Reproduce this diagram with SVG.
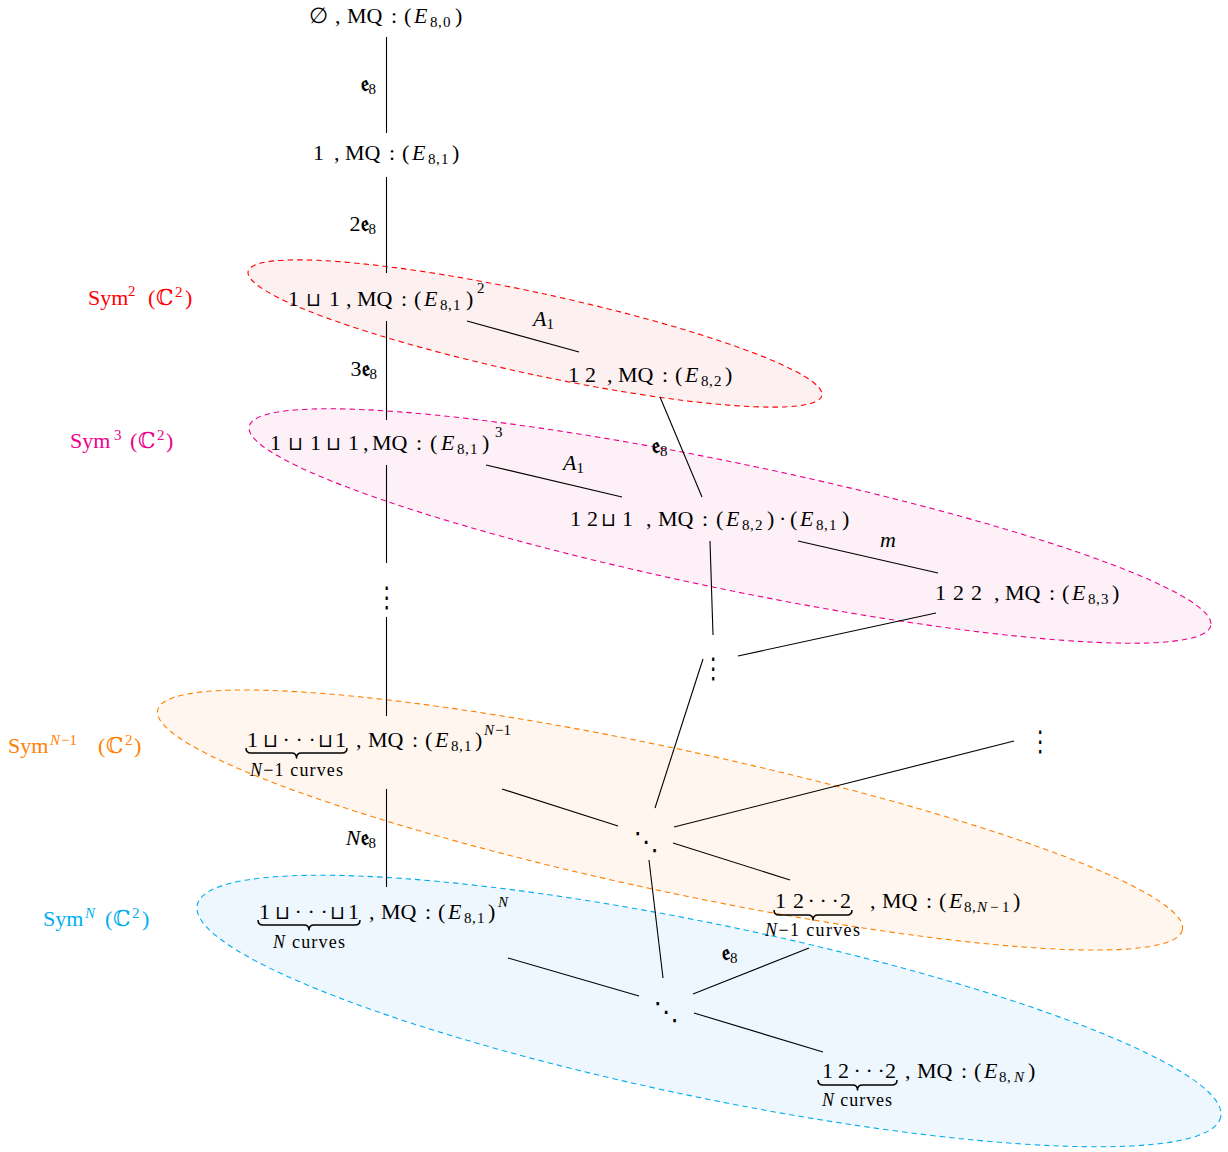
<svg xmlns="http://www.w3.org/2000/svg" width="1228" height="1152" viewBox="0 0 1228 1152">
  <style>
    .m { font-family: "Liberation Serif", "DejaVu Serif", serif; font-size: 22px; fill: #000; }
    .i { font-style: italic; }
    .s { font-size: 15px; }
    .op { font-family: "DejaVu Sans", sans-serif; font-size: 19px; }
    .fk { font-family: "DejaVu Serif", "DejaVu Sans", serif; font-weight: bold; }
    .vd { font-family: "DejaVu Sans", sans-serif; font-size: 21px; text-anchor: middle; }
    .dd { font-family: "DejaVu Sans", sans-serif; font-size: 25px; text-anchor: middle; }
    .edge { stroke: #000; stroke-width: 1.1; fill: none; }
    .brace { stroke: #000; stroke-width: 1.5; fill: none; stroke-linejoin: round; }
    .region { stroke-width: 1.1; stroke-dasharray: 5.5 4; }
    .lab { font-size: 18px; }
  </style>

  <!-- symmetric-product regions -->
  <g id="regions">
    <ellipse id="sym2" class="region" cx="535" cy="333.5" rx="293.5" ry="40.6" transform="rotate(12.2 535 333.5)" fill="#fdf0f0" stroke="#ff0000"/>
    <ellipse id="sym3" class="region" cx="730" cy="526" rx="491" ry="63.2" transform="rotate(11.7 730 526)" fill="#fdf0f6" stroke="#ec008c"/>
    <ellipse id="symN1" class="region" cx="670" cy="820" rx="524" ry="71.2" transform="rotate(12.1 670 820)" fill="#fff7ef" stroke="#ff8000"/>
    <ellipse id="symN" class="region" cx="709" cy="1011" rx="522.6" ry="86.7" transform="rotate(11.7 709 1011)" fill="#eef7fd" stroke="#00aeef"/>
  </g>

  <!-- region labels -->
  <g id="region-labels" class="m">
    <text fill="#ff0000"><tspan x="88" y="305">Sym</tspan><tspan class="s" x="128" y="296">2</tspan><tspan x="148" y="305">(</tspan><tspan x="156" y="305">ℂ</tspan><tspan class="s" x="175" y="297">2</tspan><tspan x="185" y="305">)</tspan></text>
    <text fill="#ec008c"><tspan x="70" y="448">Sym</tspan><tspan class="s" x="114" y="440">3</tspan><tspan x="130" y="448">(</tspan><tspan x="138" y="448">ℂ</tspan><tspan class="s" x="157" y="440">2</tspan><tspan x="166" y="448">)</tspan></text>
    <text fill="#ff8000"><tspan x="8" y="753">Sym</tspan><tspan class="s i" x="50" y="745">N</tspan><tspan class="s" x="61" y="745">−1</tspan><tspan x="98" y="753">(</tspan><tspan x="106" y="753">ℂ</tspan><tspan class="s" x="125" y="745">2</tspan><tspan x="134" y="753">)</tspan></text>
    <text fill="#00aeef"><tspan x="43" y="926">Sym</tspan><tspan class="s i" x="85" y="918">N</tspan><tspan x="105" y="926">(</tspan><tspan x="113" y="926">ℂ</tspan><tspan class="s" x="132" y="918">2</tspan><tspan x="142" y="926">)</tspan></text>
  </g>

  <!-- connectors -->
  <g id="connectors">
    <line class="edge" x1="386.5" y1="37" x2="386.5" y2="133"/>
    <line class="edge" x1="386.5" y1="177" x2="386.5" y2="273"/>
    <line class="edge" x1="386.5" y1="321" x2="386.5" y2="420"/>
    <line class="edge" x1="386.5" y1="465" x2="386.5" y2="563"/>
    <line class="edge" x1="386.5" y1="617" x2="386.5" y2="716"/>
    <line class="edge" x1="386.5" y1="789" x2="386.5" y2="887"/>
    <line class="edge" x1="467" y1="321" x2="579" y2="352"/>
    <line class="edge" x1="486" y1="465" x2="622" y2="497"/>
    <line class="edge" x1="660" y1="397" x2="702" y2="497"/>
    <line class="edge" x1="798" y1="541" x2="938" y2="573"/>
    <line class="edge" x1="710" y1="541" x2="713" y2="635"/>
    <line class="edge" x1="738" y1="656" x2="936" y2="613"/>
    <line class="edge" x1="703" y1="659" x2="655" y2="808"/>
    <line class="edge" x1="502" y1="789" x2="618" y2="826"/>
    <line class="edge" x1="674" y1="827" x2="1014" y2="741"/>
    <line class="edge" x1="673" y1="843" x2="790" y2="880"/>
    <line class="edge" x1="649" y1="860" x2="663" y2="978"/>
    <line class="edge" x1="508" y1="958" x2="639" y2="996"/>
    <line class="edge" x1="693" y1="994" x2="809" y2="948"/>
    <line class="edge" x1="694" y1="1013" x2="823" y2="1052"/>
  </g>

  <!-- connector labels -->
  <g id="connector-labels" class="m">
    <text x="376" y="91" text-anchor="end"><tspan class="fk">𝔢</tspan><tspan class="s" dy="3">8</tspan></text>
    <text x="376" y="231" text-anchor="end">2<tspan class="fk">𝔢</tspan><tspan class="s" dy="3">8</tspan></text>
    <text x="377" y="376" text-anchor="end">3<tspan class="fk">𝔢</tspan><tspan class="s" dy="3">8</tspan></text>
    <text x="376" y="845" text-anchor="end"><tspan class="i">N</tspan><tspan class="fk">𝔢</tspan><tspan class="s" dy="3">8</tspan></text>
    <text x="533" y="326"><tspan class="i">A</tspan><tspan class="s" dy="3">1</tspan></text>
    <text x="563" y="470"><tspan class="i">A</tspan><tspan class="s" dy="3">1</tspan></text>
    <text x="652" y="453"><tspan class="fk">𝔢</tspan><tspan class="s" dy="3">8</tspan></text>
    <text x="880" y="547" class="m i">m</text>
    <text x="722" y="960"><tspan class="fk">𝔢</tspan><tspan class="s" dy="3">8</tspan></text>
  </g>

  <!-- nodes -->
  <g id="n-empty" class="m">
    <text><tspan x="309" y="23">∅</tspan><tspan x="335" y="23">,</tspan><tspan x="347" y="23">MQ</tspan><tspan x="391" y="23">:</tspan><tspan x="404" y="23">(</tspan><tspan class="i" x="414" y="23">E</tspan><tspan class="s" x="430" y="27">8</tspan><tspan class="s" x="438" y="27">,</tspan><tspan class="s" x="443" y="27">0</tspan><tspan x="455" y="23">)</tspan></text>
  </g>

  <g id="n-1" class="m">
    <text><tspan x="313" y="160">1</tspan><tspan x="334" y="160">,</tspan><tspan x="345" y="160">MQ</tspan><tspan x="389" y="160">:</tspan><tspan x="402" y="160">(</tspan><tspan class="i" x="412" y="160">E</tspan><tspan class="s" x="428" y="164">8</tspan><tspan class="s" x="436" y="164">,</tspan><tspan class="s" x="441" y="164">1</tspan><tspan x="452" y="160">)</tspan></text>
  </g>

  <g id="n-1u1" class="m">
    <text><tspan x="288" y="306">1</tspan><tspan class="op" x="306" y="306">⊔</tspan><tspan x="329" y="306">1</tspan><tspan x="346" y="306">,</tspan><tspan x="357" y="306">MQ</tspan><tspan x="401" y="306">:</tspan><tspan x="414" y="306">(</tspan><tspan class="i" x="424" y="306">E</tspan><tspan class="s" x="440" y="310">8</tspan><tspan class="s" x="448" y="310">,</tspan><tspan class="s" x="453" y="310">1</tspan><tspan x="466" y="306">)</tspan><tspan class="s" x="477" y="293">2</tspan></text>
  </g>

  <g id="n-12" class="m">
    <text><tspan x="568" y="382">1</tspan><tspan x="585" y="382">2</tspan><tspan x="607" y="382">,</tspan><tspan x="618" y="382">MQ</tspan><tspan x="662" y="382">:</tspan><tspan x="675" y="382">(</tspan><tspan class="i" x="685" y="382">E</tspan><tspan class="s" x="701" y="386">8</tspan><tspan class="s" x="709" y="386">,</tspan><tspan class="s" x="714" y="386">2</tspan><tspan x="725" y="382">)</tspan></text>
  </g>

  <g id="n-1u1u1" class="m">
    <text><tspan x="270" y="450">1</tspan><tspan class="op" x="288" y="450">⊔</tspan><tspan x="310" y="450">1</tspan><tspan class="op" x="326" y="450">⊔</tspan><tspan x="348" y="450">1</tspan><tspan x="363" y="450">,</tspan><tspan x="372" y="450">MQ</tspan><tspan x="416" y="450">:</tspan><tspan x="430" y="450">(</tspan><tspan class="i" x="441" y="450">E</tspan><tspan class="s" x="457" y="454">8</tspan><tspan class="s" x="465" y="454">,</tspan><tspan class="s" x="470" y="454">1</tspan><tspan x="482" y="450">)</tspan><tspan class="s" x="495" y="437">3</tspan></text>
  </g>

  <g id="n-12u1" class="m">
    <text><tspan x="570" y="526">1</tspan><tspan x="587" y="526">2</tspan><tspan class="op" x="601" y="526">⊔</tspan><tspan x="622" y="526">1</tspan><tspan x="646" y="526">,</tspan><tspan x="658" y="526">MQ</tspan><tspan x="702" y="526">:</tspan><tspan x="716" y="526">(</tspan><tspan class="i" x="726" y="526">E</tspan><tspan class="s" x="742" y="530">8</tspan><tspan class="s" x="750" y="530">,</tspan><tspan class="s" x="755" y="530">2</tspan><tspan x="767" y="526">)</tspan><tspan x="779" y="526">·</tspan><tspan x="790" y="526">(</tspan><tspan class="i" x="800" y="526">E</tspan><tspan class="s" x="816" y="530">8</tspan><tspan class="s" x="824" y="530">,</tspan><tspan class="s" x="829" y="530">1</tspan><tspan x="842" y="526">)</tspan></text>
  </g>

  <g id="n-122" class="m">
    <text><tspan x="935" y="600">1</tspan><tspan x="953" y="600">2</tspan><tspan x="971" y="600">2</tspan><tspan x="994" y="600">,</tspan><tspan x="1005" y="600">MQ</tspan><tspan x="1049" y="600">:</tspan><tspan x="1062" y="600">(</tspan><tspan class="i" x="1072" y="600">E</tspan><tspan class="s" x="1088" y="604">8</tspan><tspan class="s" x="1096" y="604">,</tspan><tspan class="s" x="1101" y="604">3</tspan><tspan x="1112" y="600">)</tspan></text>
  </g>

  <!-- ellipsis nodes: vertical ones stretched so the dots sit further apart -->
  <g id="n-vdots-left"><text class="vd" transform="translate(386.5 607) scale(1 1.35)">⋮</text></g>
  <g id="n-vdots-mid"><text class="vd" transform="translate(713 678) scale(1 1.35)">⋮</text></g>
  <g id="n-vdots-right"><text class="vd" transform="translate(1040 751) scale(1 1.35)">⋮</text></g>
  <g id="n-ddots-upper"><text class="dd" x="646" y="850">⋱</text></g>
  <g id="n-ddots-lower"><text class="dd" x="666" y="1020">⋱</text></g>

  <g id="n-sum-N1" class="m">
    <text><tspan x="247" y="747">1</tspan><tspan class="op" x="263" y="747">⊔</tspan><tspan x="282.5" y="747">·</tspan><tspan x="295.5" y="747">·</tspan><tspan x="308.5" y="747">·</tspan><tspan class="op" x="318" y="747">⊔</tspan><tspan x="335" y="747">1</tspan><tspan x="356" y="747">,</tspan><tspan x="368" y="747">MQ</tspan><tspan x="412" y="747">:</tspan><tspan x="425" y="747">(</tspan><tspan class="i" x="435" y="747">E</tspan><tspan class="s" x="451" y="751">8</tspan><tspan class="s" x="459" y="751">,</tspan><tspan class="s" x="464" y="751">1</tspan><tspan x="475" y="747">)</tspan><tspan class="s i" x="484" y="735">N</tspan><tspan class="s" x="495" y="735">−1</tspan></text>
    <path class="brace" d="M246,748 q0,5 5,5 L291.5,753 q5,0 5,5 q0,-5 5,-5 L342,753 q5,0 5,-5"/>
    <text class="lab" x="250" y="776" textLength="93" lengthAdjust="spacing"><tspan class="i">N</tspan>−1 curves</text>
  </g>

  <g id="n-chain-N1" class="m">
    <text><tspan x="775" y="908">1</tspan><tspan x="793" y="908">2</tspan><tspan x="807.5" y="908">·</tspan><tspan x="819.5" y="908">·</tspan><tspan x="831.5" y="908">·</tspan><tspan x="840" y="908">2</tspan><tspan x="870" y="908">,</tspan><tspan x="882" y="908">MQ</tspan><tspan x="926" y="908">:</tspan><tspan x="939" y="908">(</tspan><tspan class="i" x="949" y="908">E</tspan><tspan class="s" x="964" y="912">8</tspan><tspan class="s" x="972" y="912">,</tspan><tspan class="s i" x="977" y="912">N</tspan><tspan class="s" x="990" y="912">−</tspan><tspan class="s" x="1002" y="912">1</tspan><tspan x="1013" y="908">)</tspan></text>
    <path class="brace" d="M774,910 q0,5 5,5 L808,915 q5,0 5,5 q0,-5 5,-5 L847,915 q5,0 5,-5"/>
    <text class="lab" x="765" y="936" textLength="95" lengthAdjust="spacing"><tspan class="i">N</tspan>−1 curves</text>
  </g>

  <g id="n-sum-N" class="m">
    <text><tspan x="259" y="919">1</tspan><tspan class="op" x="275" y="919">⊔</tspan><tspan x="294.5" y="919">·</tspan><tspan x="307.5" y="919">·</tspan><tspan x="320.5" y="919">·</tspan><tspan class="op" x="330" y="919">⊔</tspan><tspan x="348" y="919">1</tspan><tspan x="369" y="919">,</tspan><tspan x="381" y="919">MQ</tspan><tspan x="425" y="919">:</tspan><tspan x="438" y="919">(</tspan><tspan class="i" x="448" y="919">E</tspan><tspan class="s" x="464" y="923">8</tspan><tspan class="s" x="472" y="923">,</tspan><tspan class="s" x="477" y="923">1</tspan><tspan x="488" y="919">)</tspan><tspan class="s i" x="498" y="907">N</tspan></text>
    <path class="brace" d="M258,920 q0,5 5,5 L304,925 q5,0 5,5 q0,-5 5,-5 L355,925 q5,0 5,-5"/>
    <text class="lab" x="273" y="948" textLength="72" lengthAdjust="spacing"><tspan class="i">N</tspan> curves</text>
  </g>

  <g id="n-chain-N" class="m">
    <text><tspan x="822" y="1078">1</tspan><tspan x="838" y="1078">2</tspan><tspan x="853.5" y="1078">·</tspan><tspan x="865.5" y="1078">·</tspan><tspan x="877.5" y="1078">·</tspan><tspan x="885" y="1078">2</tspan><tspan x="905" y="1078">,</tspan><tspan x="917" y="1078">MQ</tspan><tspan x="961" y="1078">:</tspan><tspan x="974" y="1078">(</tspan><tspan class="i" x="984" y="1078">E</tspan><tspan class="s" x="999" y="1082">8</tspan><tspan class="s" x="1007" y="1082">,</tspan><tspan class="s i" x="1014" y="1082">N</tspan><tspan x="1028" y="1078">)</tspan></text>
    <path class="brace" d="M818,1080 q0,5 5,5 L852.5,1085 q5,0 5,5 q0,-5 5,-5 L892,1085 q5,0 5,-5"/>
    <text class="lab" x="822" y="1106" textLength="70" lengthAdjust="spacing"><tspan class="i">N</tspan> curves</text>
  </g>
</svg>
